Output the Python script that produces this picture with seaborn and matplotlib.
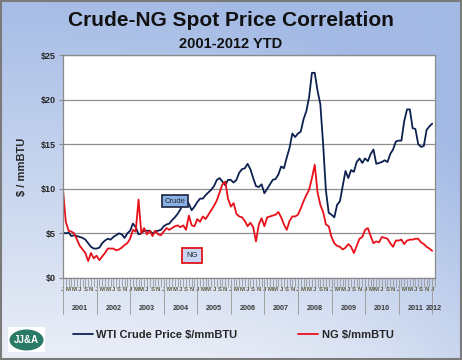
import numpy as np
import pandas as pd
import matplotlib
matplotlib.use("Agg")
import matplotlib.pyplot as plt
from matplotlib.patches import Ellipse, Rectangle
import seaborn as sns

# monthly values, Jan 2001 .. Jan 2012
crude = [
    5.1, 5.0, 5.1, 4.7, 4.8, 4.7, 4.6, 4.5, 4.3, 3.9, 3.5, 3.3,        # 2001
    3.3, 3.4, 3.9, 4.2, 4.4, 4.3, 4.6, 4.8, 5.0, 4.9, 4.5, 5.0,        # 2002
    5.3, 6.1, 5.7, 4.9, 5.0, 5.3, 5.3, 5.3, 5.0, 5.2, 5.3, 5.4,        # 2003
    5.8, 6.0, 6.1, 6.5, 6.8, 7.2, 7.7, 8.6, 8.9, 8.3, 7.6, 8.0,        # 2004
    8.5, 8.9, 8.9, 9.3, 9.6, 9.9, 10.3, 11.0, 11.2, 10.8, 10.4, 11.0,  # 2005
    11.0, 10.7, 11.0, 11.8, 12.2, 12.3, 12.8, 12.2, 11.2, 10.3, 10.2, 10.5,  # 2006
    9.5, 10.0, 10.5, 11.0, 11.1, 11.6, 12.5, 12.3, 13.5, 14.6, 16.2, 15.8,   # 2007
    16.2, 16.4, 17.8, 18.7, 20.3, 23.0, 23.0, 21.0, 19.5, 15.0, 9.8, 7.3,    # 2008
    7.1, 6.8, 8.2, 8.6, 10.3, 12.0, 11.2, 12.1, 11.9, 13.0, 13.4, 12.9,      # 2009
    13.4, 13.1, 13.9, 14.4, 12.8, 12.9, 13.0, 13.2, 13.0, 13.9, 14.4, 15.3,  # 2010
    15.4, 15.4, 17.6, 18.9, 18.9, 16.8, 16.7, 15.0, 14.7, 14.8, 16.6, 17.0,  # 2011
    17.3,                                                                      # 2012
]
ng = [
    9.9, 6.3, 5.3, 5.2, 5.0, 4.3, 3.6, 3.2, 2.8, 1.9, 2.8, 2.2,        # 2001
    2.5, 2.0, 2.4, 2.8, 3.3, 3.3, 3.3, 3.1, 3.2, 3.4, 3.7, 3.9,        # 2002
    4.4, 5.4, 5.2, 8.8, 5.0, 5.6, 4.9, 5.3, 4.7, 5.3, 4.9, 4.8,        # 2003
    5.2, 5.6, 5.4, 5.6, 5.8, 5.9, 5.7, 5.9, 5.4, 7.0, 5.9, 5.8,        # 2004
    6.6, 6.3, 6.9, 6.6, 7.1, 7.6, 8.1, 8.7, 9.6, 10.5, 10.8, 8.9,      # 2005
    8.0, 8.4, 7.2, 6.9, 6.8, 6.4, 5.8, 6.2, 5.7, 4.1, 6.0, 6.7,        # 2006
    5.8, 6.8, 6.9, 7.0, 7.1, 7.4, 6.8, 6.0, 5.4, 6.4, 6.9, 6.9,        # 2007
    7.1, 7.8, 8.6, 9.3, 9.9, 11.2, 12.7, 9.6, 8.2, 7.4, 6.0, 5.8,      # 2008
    4.6, 3.9, 3.6, 3.5, 3.2, 3.4, 3.8, 3.5, 2.8, 3.6, 4.4, 4.6,        # 2009
    5.4, 5.6, 4.7, 3.9, 4.1, 4.0, 4.6, 4.5, 4.4, 3.9, 3.5, 4.2,        # 2010
    4.2, 4.3, 3.8, 4.2, 4.3, 4.3, 4.4, 4.4, 4.0, 3.8, 3.5, 3.3,        # 2011
    3.05,                                                               # 2012
]
years = ["2001", "2002", "2003", "2004", "2005", "2006",
         "2007", "2008", "2009", "2010", "2011", "2012"]
month_letters = ["J", "M", "M", "J", "S", "N"]   # every other month
y_ticks = [0, 5, 10, 15, 20, 25]

df = pd.DataFrame({"month": np.arange(len(crude)), "crude": crude, "ng": ng})

sns.set_style("white")
plt.rcParams["font.family"] = ["Liberation Sans", "DejaVu Sans"]

fig = plt.figure(figsize=(4.62, 3.6), dpi=100)

# background gradient (blue at top / right, pale at bottom left)
bg = fig.add_axes([0, 0, 1, 1], zorder=-10)
xx, yy = np.meshgrid(np.linspace(0, 1, 200), np.linspace(1, 0, 200))
t = np.clip(0.95 * yy + 0.45 * xx ** 3, 0, 1)[..., None]
pale = np.array([234, 238, 247]) / 255
blue = np.array([163, 186, 229]) / 255
bg.imshow(pale * (1 - t) + blue * t, aspect="auto", extent=[0, 1, 0, 1])
bg.set_xlim(0, 1)
bg.set_ylim(0, 1)
bg.axis("off")
bg.add_patch(Rectangle((0.002, 0.003), 0.995, 0.994, fill=False,
                       edgecolor="#7a7a7a", lw=1.5))

ax = fig.add_axes([63 / 462, 82 / 360, 372 / 462, 223 / 360])
ax.set_facecolor("white")
sns.lineplot(data=df, x="month", y="crude", ax=ax, color="#0d2150", lw=1.3,
             label="WTI Crude Price $/mmBTU")
sns.lineplot(data=df, x="month", y="ng", ax=ax, color="#e8101a", lw=1.3,
             label="NG $/mmBTU")

n_slots = len(crude)
ax.set_xlim(0, n_slots)
ax.set_ylim(0, 25)
ax.set_yticks(y_ticks)
ax.set_yticklabels([f"${v}" for v in y_ticks], fontsize=6.5, fontweight="bold")
ax.yaxis.grid(True, color="#8f8f8f", lw=0.9)
ax.set_axisbelow(True)
ax.set_xlabel("")
ax.set_ylabel("$ / mmBTU", fontsize=8, fontweight="bold", labelpad=10)
for s in ax.spines.values():
    s.set_color("#8a8a8a")
    s.set_linewidth(0.9)

# month ticks: every month minor, every other month labelled
ax.set_xticks(np.arange(0, n_slots + 1), minor=True)
major = [m for m in range(0, n_slots) if m % 2 == 0]
ax.set_xticks(major)
ax.set_xticklabels([month_letters[(m % 12) // 2] for m in major],
                   fontsize=4.3, color="#5e5a3a", fontweight="bold")
ax.tick_params(axis="x", which="both", direction="out", length=6.5,
               color="#9a9a9a", width=0.6, pad=0.3, bottom=True)
ax.tick_params(axis="y", direction="out", length=3, color="#8a8a8a",
               left=True, pad=2)

# year labels and separators under the axis
trans = ax.get_xaxis_transform()
for k, yr in enumerate(years):
    start = 12 * k
    end = min(start + 12, n_slots)
    ax.text((start + end) / 2, -0.135, yr, transform=trans, ha="center",
            va="center", fontsize=5.2, fontweight="bold", color="#3a3a3a")
    ax.plot([start, start], [0, -0.16], transform=trans, color="#a0a0a0",
            lw=0.7, clip_on=False)

# series tags
ax.text(40, 8.6, "Crude", fontsize=5.5, ha="center", va="center",
        bbox=dict(boxstyle="square,pad=0.35", facecolor="#8ab0e8",
                  edgecolor="#1b2540", lw=1.2))
ax.text(46, 2.5, "NG", fontsize=5.5, ha="center", va="center",
        bbox=dict(boxstyle="square,pad=0.55", facecolor="#c9d6f3",
                  edgecolor="#e0141e", lw=1.3))

handles, labels = ax.get_legend_handles_labels()
ax.get_legend().remove()
fig.legend(handles, labels, loc="center", bbox_to_anchor=(0.505, 0.069),
           ncol=2, frameon=False, handlelength=1.8, handletextpad=0.3,
           columnspacing=5.5, prop={"size": 8, "weight": "bold"})

# titles
fig.text(0.5, 1 - 20 / 360, "Crude-NG Spot Price Correlation", ha="center",
         va="center", fontsize=15, fontweight="bold", color="#111111")
fig.text(0.5, 1 - 44 / 360, "2001-2012 YTD", ha="center", va="center",
         fontsize=10.5, fontweight="bold", color="#111111")

# logo
bg.add_patch(Rectangle((8 / 462, 1 - 352 / 360), 37 / 462, 25 / 360,
                       facecolor="white", edgecolor="none"))
bg.add_patch(Ellipse((26.5 / 462, 1 - 340 / 360), 34 / 462, 21 / 360,
                     facecolor="#2a7a68", edgecolor="none"))
bg.text(26.5 / 462, 1 - 340 / 360, "JJ&A", ha="center", va="center",
        fontsize=7, fontweight="bold", color="white")

fig.savefig("out.png", dpi=100)
